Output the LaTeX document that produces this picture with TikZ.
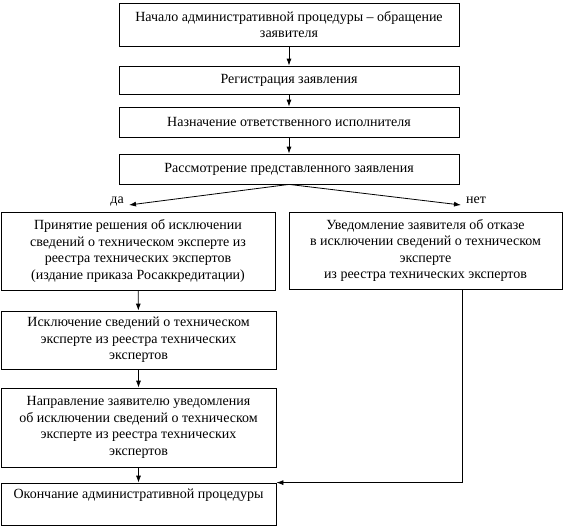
\documentclass[tikz,border=0pt]{standalone}
\usepackage{fontspec}
\setmainfont{Liberation Serif}
\newfontfamily\rufont{Liberation Serif}
\usetikzlibrary{arrows.meta}
\begin{document}
\begin{tikzpicture}[x=1pt,y=-1pt,
  box/.style={draw, line width=0.8pt, inner sep=0pt, align=center,
    font=\rufont\fontsize{14}{16.5}\selectfont},
  conn/.style={line width=0.8pt, -{Latex[length=7pt,width=5pt]}},
  lbl/.style={inner sep=0pt, font=\rufont\fontsize{14}{16.5}\selectfont}]
\useasboundingbox (0,0) rectangle (565,528);
% top column
\node[box, minimum width=340pt, minimum height=43pt] (b1) at (289,24.5)
  {Начало административной процедуры – обращение\\заявителя};
\node[box, minimum width=340pt, minimum height=28pt] (b2) at (289,80)
  {Регистрация заявления};
\node[box, minimum width=340pt, minimum height=30pt] (b3) at (289,122)
  {Назначение ответственного исполнителя};
\node[box, minimum width=340pt, minimum height=30pt] (b4) at (289,169)
  {Рассмотрение представленного заявления};
% branches
\node[box, minimum width=274pt, minimum height=78pt] (l1) at (138,251)
  {Принятие решения об исключении\\сведений о техническом эксперте из\\реестра технических экспертов\\(издание приказа Росаккредитации)};
\node[box, minimum width=273pt, minimum height=77pt] (r1) at (425.5,250.5)
  {Уведомление заявителя об отказе\\в исключении сведений о техническом\\эксперте\\из реестра технических экспертов};
\node[box, minimum width=275pt, minimum height=58pt] (l2) at (138.5,340)
  {Исключение сведений о техническом\\эксперте из реестра технических\\экспертов};
\node[box, minimum width=275pt, minimum height=79pt] (l3) at (138.5,427.5)
  {Направление заявителю уведомления\\об исключении сведений о техническом\\эксперте из реестра технических\\экспертов};
\node[box, minimum width=275pt, minimum height=42pt] (l4) at (138.5,504)
  {Окончание административной процедуры\\\strut};
% connectors
\draw[conn] (b1) -- (b2);
\draw[conn] (b2) -- (b3);
\draw[conn] (b3) -- (b4);
\coordinate (yes) at (129,205);
\coordinate (no) at (461,205);
\draw[conn] (b4.south) -- (yes);
\draw[conn] (b4.south) -- (no);
\node[lbl, anchor=east] (da) at (124,202) {да};
\node[lbl, anchor=west] (net) at (466,200) {нет};
\draw[conn] (l1) -- (l2);
\draw[conn] (l2) -- (l3);
\draw[conn] (l3) -- (l4);
\coordinate (rx) at (462,0);
\draw[conn] (r1.south -| rx) |- (l4.north east);
\end{tikzpicture}
\end{document}
